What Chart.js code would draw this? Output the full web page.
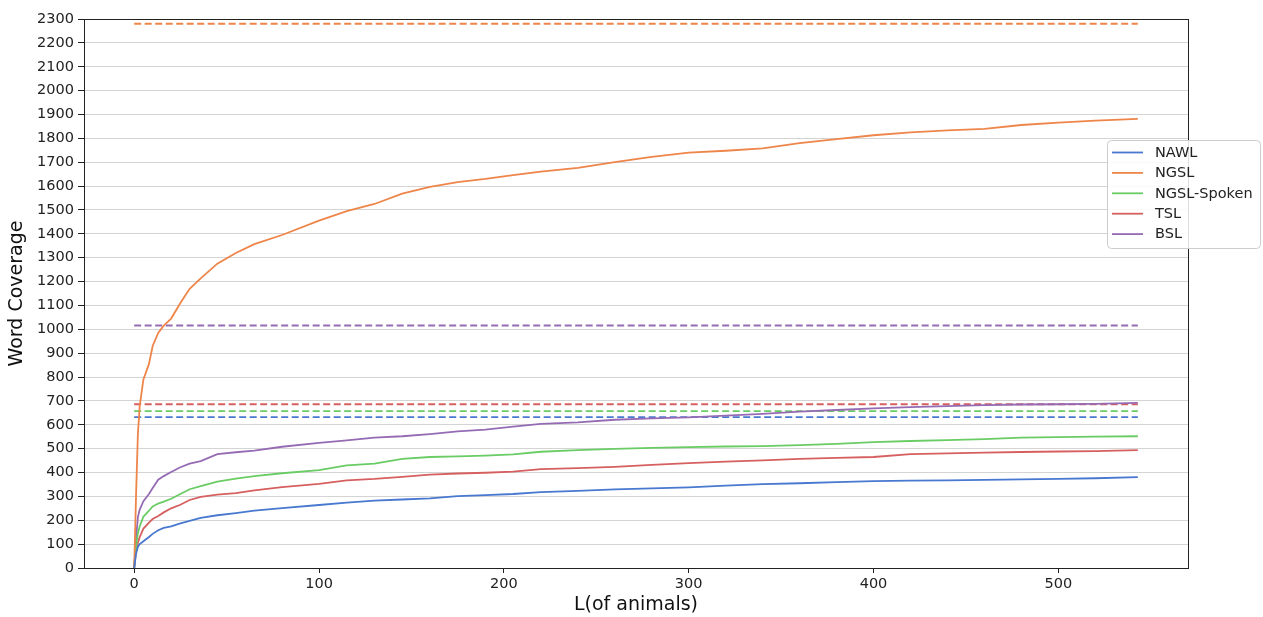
<!DOCTYPE html>
<html>
<head>
<meta charset="utf-8">
<title>Word Coverage by L</title>
<script src="https://cdn.jsdelivr.net/npm/chart.js@4.4.1/dist/chart.umd.min.js"></script>
<style>
  html, body { margin: 0; padding: 0; background: #ffffff; }
  #wrap { position: relative; width: 1263px; height: 617px; }
</style>
</head>
<body>
<div id="wrap"><canvas id="chart"></canvas></div>
<script>
// Number of animal names taken (L) at which coverage was sampled
const sampleL = [0, 1, 2, 3, 5, 8, 10, 13, 16, 20, 25, 30, 36, 45, 55, 65, 80, 100, 115, 130,
  145, 160, 175, 190, 205, 220, 240, 260, 280, 300, 320, 340, 360, 380, 400, 420, 440, 460,
  480, 500, 520, 543];

// Cumulative word coverage for each word list
const nawl = [0, 60, 88, 100, 112, 130, 143, 158, 168, 174, 187, 197, 210, 221, 230, 240, 251,
  264, 274, 282, 287, 292, 301, 305, 310, 318, 323, 329, 334, 338, 345, 351, 355, 360, 364,
  366, 367, 369, 371, 373, 376, 381];
const ngsl = [0, 300, 560, 680, 790, 855, 930, 985, 1015, 1045, 1110, 1170, 1213, 1275, 1320,
  1357, 1395, 1455, 1495, 1525, 1568, 1597, 1617, 1630, 1646, 1661, 1676, 1700, 1722, 1740,
  1748, 1758, 1780, 1797, 1813, 1825, 1833, 1840, 1856, 1866, 1874, 1882];
const ngslSpoken = [0, 90, 146, 175, 215, 240, 258, 270, 278, 290, 310, 330, 343, 362, 374,
  385, 397, 410, 430, 437, 457, 465, 468, 471, 476, 487, 494, 499, 503, 506, 509, 511, 515,
  520, 527, 532, 536, 540, 546, 548, 550, 552];
const tsl = [0, 70, 105, 130, 165, 190, 205, 218, 233, 250, 265, 285, 298, 307, 314, 325, 339,
  352, 367, 373, 382, 391, 396, 399, 404, 414, 418, 424, 432, 439, 446, 451, 457, 461, 465,
  477, 480, 483, 486, 488, 490, 494];
const bsl = [0, 120, 213, 245, 280, 310, 335, 370, 385, 402, 422, 437, 448, 477, 485, 492, 508,
  524, 535, 546, 552, 561, 572, 580, 592, 604, 610, 621, 627, 631, 638, 646, 655, 662, 669,
  674, 678, 682, 685, 686, 688, 692];

// Total size of each list (dashed reference levels)
const listNames = ['NAWL', 'NGSL', 'NGSL-Spoken', 'TSL', 'BSL'];
const listTotals = [632, 2280, 657, 686, 1016];
const listColors = ['#4878d0', '#ee854a', '#6acc64', '#d65f5f', '#956cb4'];

const yTicks = [0, 100, 200, 300, 400, 500, 600, 700, 800, 900, 1000, 1100, 1200, 1300, 1400,
  1500, 1600, 1700, 1800, 1900, 2000, 2100, 2200, 2300];
const xTicks = [0, 100, 200, 300, 400, 500];

const curves = [nawl, ngsl, ngslSpoken, tsl, bsl];
const lastL = sampleL[sampleL.length - 1];

const datasets = [];
curves.forEach((vals, i) => {
  datasets.push({
    label: listNames[i],
    data: sampleL.map((l, k) => ({ x: l, y: vals[k] })),
    borderColor: listColors[i],
    backgroundColor: listColors[i],
    borderWidth: 1.8,
    pointRadius: 0,
    tension: 0,
    fill: false,
    isCurve: true
  });
});
listTotals.forEach((total, i) => {
  datasets.push({
    label: listNames[i] + ' total',
    data: [{ x: 0, y: total }, { x: lastL, y: total }],
    borderColor: listColors[i],
    borderWidth: 1.8,
    borderDash: [7, 3.5],
    pointRadius: 0,
    tension: 0,
    fill: false,
    isCurve: false
  });
});

const FONT = 'DejaVu Sans, sans-serif';

// Frame around the plotting area
const frame = {
  id: 'frame',
  afterDatasetsDraw(chart) {
    const { ctx, chartArea: a } = chart;
    ctx.save();
    ctx.strokeStyle = '#222222';
    ctx.lineWidth = 1;
    ctx.strokeRect(Math.round(a.left) + 0.5, Math.round(a.top) + 0.5,
      Math.round(a.right - a.left), Math.round(a.bottom - a.top));
    ctx.restore();
  }
};

// Legend box for the five coverage curves
const curveLegend = {
  id: 'curveLegend',
  afterDraw(chart) {
    const { ctx } = chart;
    const bx = 1107.5, by = 140.5, bw = 153, bh = 108, r = 4;
    ctx.save();
    ctx.beginPath();
    ctx.moveTo(bx + r, by);
    ctx.lineTo(bx + bw - r, by);
    ctx.arcTo(bx + bw, by, bx + bw, by + r, r);
    ctx.lineTo(bx + bw, by + bh - r);
    ctx.arcTo(bx + bw, by + bh, bx + bw - r, by + bh, r);
    ctx.lineTo(bx + r, by + bh);
    ctx.arcTo(bx, by + bh, bx, by + bh - r, r);
    ctx.lineTo(bx, by + r);
    ctx.arcTo(bx, by, bx + r, by, r);
    ctx.closePath();
    ctx.fillStyle = 'rgba(255,255,255,0.85)';
    ctx.fill();
    ctx.strokeStyle = '#cccccc';
    ctx.lineWidth = 1;
    ctx.stroke();

    ctx.font = '14.5px ' + FONT;
    ctx.textBaseline = 'middle';
    ctx.textAlign = 'left';
    chart.data.datasets.filter(d => d.isCurve).forEach((d, i) => {
      const y = 152.5 + i * 20.4;
      ctx.strokeStyle = d.borderColor;
      ctx.lineWidth = 1.8;
      ctx.beginPath();
      ctx.moveTo(1112, y);
      ctx.lineTo(1143, y);
      ctx.stroke();
      ctx.fillStyle = '#222222';
      ctx.fillText(d.label, 1155, y + 0.5);
    });
    ctx.restore();
  }
};

new Chart(document.getElementById('chart'), {
  type: 'line',
  data: { datasets },
  options: {
    responsive: true,
    maintainAspectRatio: false,
    animation: false,
    events: [],
    layout: { padding: { left: 0, right: 75, top: 19, bottom: 0 } },
    plugins: {
      legend: { display: false },
      tooltip: { enabled: false }
    },
    scales: {
      x: {
        type: 'linear',
        min: -27.15,
        max: 570.15,
        afterBuildTicks(scale) { scale.ticks = xTicks.map(v => ({ value: v })); },
        afterFit(scale) { scale.height = 49; },
        border: { display: false },
        grid: {
          drawOnChartArea: false,
          drawTicks: true,
          tickLength: 5,
          tickColor: '#222222'
        },
        ticks: {
          font: { family: FONT, size: 14.5 },
          color: '#222222',
          padding: 3,
          maxRotation: 0,
          callback: v => String(v)
        },
        title: {
          display: true,
          text: 'L(of animals)',
          font: { family: FONT, size: 19 },
          color: '#111111',
          padding: { top: 0, bottom: 1 }
        }
      },
      y: {
        type: 'linear',
        min: 0,
        max: 2300,
        afterBuildTicks(scale) { scale.ticks = yTicks.map(v => ({ value: v })); },
        afterFit(scale) { scale.width = 84; },
        border: { display: false },
        grid: {
          color: '#d4d4d4',
          lineWidth: 1,
          drawTicks: true,
          tickLength: 6,
          tickColor: '#222222'
        },
        ticks: {
          font: { family: FONT, size: 14.5 },
          color: '#222222',
          padding: 4,
          callback: v => String(v)
        },
        title: {
          display: true,
          text: 'Word Coverage',
          font: { family: FONT, size: 19 },
          color: '#111111',
          padding: { top: 6, bottom: 0 }
        }
      }
    }
  },
  plugins: [frame, curveLegend]
});
</script>
</body>
</html>
